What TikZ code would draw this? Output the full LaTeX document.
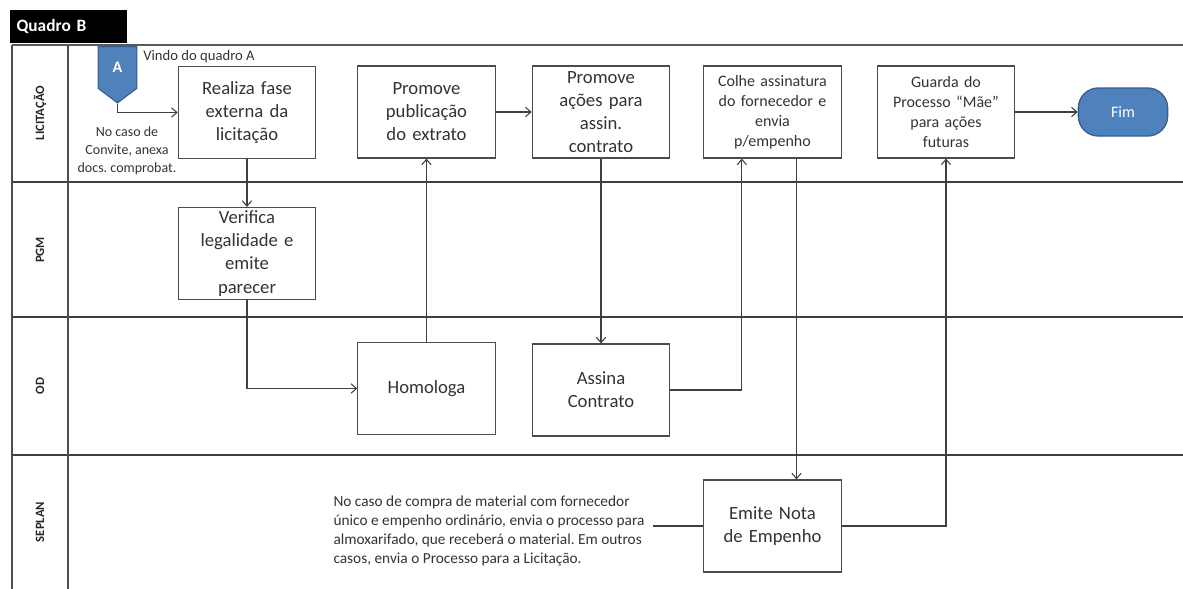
\documentclass[tikz,border=0pt]{standalone}
\usepackage{fontspec}
\setmainfont{Carlito}
\usetikzlibrary{arrows.meta,shapes.symbols}
\frenchspacing

\definecolor{azulfim}{HTML}{4F81BD}
\definecolor{azulborda}{HTML}{385D8A}

\tikzset{
	passo/.style={draw=black!70, line width=0.9pt, minimum width=103pt, minimum height=69pt, text width=94pt, align=center, inner sep=1pt, font=\fontsize{14}{17.3}\selectfont, text=black!80},
	passop/.style={passo, font=\fontsize{12}{15}\selectfont},
	raia/.style={rotate=90, font=\bfseries\fontsize{9.5}{11}\selectfont, text=black!85},
	nota/.style={align=center, font=\fontsize{10.5}{13.5}\selectfont, text=black!80, inner sep=0pt},
	fluxo/.style={draw=black!75, line width=0.8pt, -{Straight Barb[length=4pt,width=7pt]}},
	divisa/.style={line width=1.5pt, black!75},
	terminal/.style={fill=azulfim, draw=azulborda, line width=1pt, rounded corners=15pt, minimum width=67pt, minimum height=36pt, text=white, font=\fontsize{12}{14}\selectfont},
	conector/.style={signal, signal to=south, signal pointer angle=106, fill=azulfim, draw=azulborda, line width=0.8pt, minimum width=29pt, minimum height=34pt, inner sep=0pt, text=white, font=\bfseries\fontsize{12}{14}\selectfont},
}

\begin{document}
\begin{tikzpicture}[x=0.75pt, y=-0.75pt]
			%%%%% START %%%%%
			\useasboundingbox (0,0) rectangle (1183,589);
			
			% moldura e raias
			\node[fill=black, text=white, font=\bfseries\fontsize{13}{15}\selectfont, minimum width=88pt, minimum height=25pt, text width=78pt, align=left, inner sep=0pt] (quadro) at (68.5,26.5) {Quadro B};
			\draw[line width=1.1pt, black!65] (12,45) -- (1183,45);
			\draw[divisa] (12,182) -- (1183,182);
			\draw[divisa] (12,317) -- (1183,317);
			\draw[divisa] (12,455) -- (1183,455);
			\draw[line width=1.2pt, black!70] (12,45) -- (12,589);
			\draw[line width=1.2pt, black!70] (68,45) -- (68,589);
			
			\node[raia] (lic) at (40,113) {LICITAÇÃO};
			\node[raia] (pgm) at (40,250) {PGM};
			\node[raia] (od) at (40,386) {OD};
			\node[raia] (seplan) at (40,522) {SEPLAN};
			
			% passos
			\node[conector] (A) at (117.5,67.5) {A};
			\node[nota, anchor=west, font=\fontsize{11}{13}\selectfont] (vindo) at (143,57) {Vindo do quadro A};
			\node[nota] (convite) at (127,151) {No caso de\\Convite, anexa\\docs. comprobat.};
			
			\node[passo] (realiza) at (247,112.5) {Realiza fase\\externa da\\licitação};
			\node[passo] (publica) at (426.5,112) {Promove\\publicação\\do extrato};
			\node[passo] (acoes) at (601,112) {Promove\\ações para\\assin.\\contrato};
			\node[passop] (colhe) at (772.5,112) {Colhe assinatura\\do fornecedor e\\envia\\p/empenho};
			\node[passop] (guarda) at (946,112) {Guarda do\\Processo ``Mãe''\\para ações\\futuras};
			\node[terminal] (fim) at (1123,112) {Fim};
			
			\node[passo] (verifica) at (247,253.5) {Verifica\\legalidade e\\emite\\parecer};
			
			\node[passo] (homologa) at (426.5,388.5) {Homologa};
			\node[passo] (assina) at (601,390) {Assina\\Contrato};
			
			\node[passo] (emite) at (772.5,526) {Emite Nota\\de Empenho};
			\node[nota, align=left, font=\fontsize{11.5}{14.3}\selectfont] (almox) at (489,531) {No caso de compra de material com fornecedor\\único e empenho ordinário, envia o processo para\\almoxarifado, que receberá o material. Em outros\\casos, envia o Processo para a Licitação.};
			
			% fluxo
			\draw[fluxo] (A.south) |- (realiza.west);
			\draw[fluxo] (realiza.south) -- (verifica.north);
			\draw[fluxo] (verifica.south) |- (homologa.west);
			\draw[fluxo] (homologa.north) -- (publica.south);
			\draw[fluxo] (publica.east) -- (acoes.west);
			\draw[fluxo] (acoes.south) -- (assina.north);
			\draw[fluxo] (assina.east) -| ([xshift=-23pt]colhe.south);
			\draw[fluxo] ([xshift=18pt]colhe.south) -- ([xshift=18pt]emite.north);
			\draw[fluxo] (emite.east) -| (guarda.south);
			\draw[fluxo] (guarda.east) -- (fim.west);
			\draw[draw=black!75, line width=0.8pt] ([xshift=6pt]almox.east |- emite.west) -- (emite.west);
			
			%%%%% END %%%%%
\end{tikzpicture}
\end{document}
